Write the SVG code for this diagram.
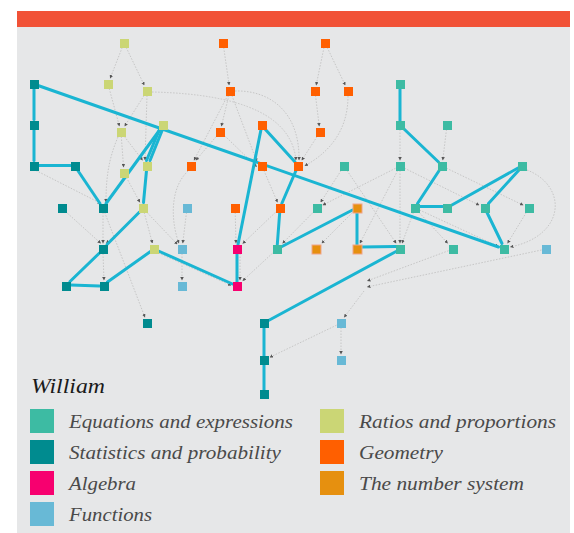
<svg xmlns="http://www.w3.org/2000/svg" width="574" height="533" viewBox="0 0 574 533">
<defs>
<style>
.d{fill:none;stroke:#c6c6c6;stroke-width:1;stroke-dasharray:1.5 1.5;marker-end:url(#ah)}
.t{fill:none;stroke:#1ab5d2;stroke-width:3;stroke-linecap:round}
.eq{fill:#3dbba3}.st{fill:#008b8f}.al{fill:#f7006f}.fn{fill:#68b9d6}.ra{fill:#cbd675}.ge{fill:#ff5f00}.nu{fill:#e6900f}
.nh{stroke:#f0a58a;stroke-width:1}
.lg{font-family:"Liberation Serif",Georgia,serif;font-style:italic;font-size:19px;fill:#4a4a4a}
</style>
<marker id="ah" viewBox="0 0 4 4" refX="4" refY="2" markerWidth="3.5" markerHeight="3.5" markerUnits="userSpaceOnUse" orient="auto"><path d="M0,0L4,2L0,4z" fill="#555"/></marker>
</defs>
<rect x="17" y="11" width="553" height="522" fill="#e6e7e8"/>
<rect x="17" y="11" width="553" height="16" fill="#f15237"/>
<g id="connectors">
<line class="d" x1="122.2" y1="47.5" x2="110.1" y2="78.5"/>
<line class="d" x1="126.2" y1="47.5" x2="144.4" y2="85.5"/>
<line class="d" x1="109.2" y1="88.5" x2="119.5" y2="126.5"/>
<line class="d" x1="144.1" y1="95.5" x2="124.5" y2="126.5"/>
<line class="d" x1="147" y1="95.5" x2="145" y2="160.5"/>
<path class="d" d="M152,92 Q290,95 296,160.5"/>
<line class="d" x1="121.3" y1="136.5" x2="123.6" y2="167.5"/>
<line class="d" x1="124.4" y1="136.5" x2="142.8" y2="160.5"/>
<path class="d" d="M118,137 C108,160 106,180 106,202.5"/>
<line class="d" x1="36" y1="170.5" x2="101" y2="203.5"/>
<line class="d" x1="65.2" y1="211.2" x2="101" y2="243.5"/>
<line class="d" x1="103" y1="212.5" x2="103" y2="243.5"/>
<line class="d" x1="104.7" y1="212.5" x2="145" y2="317.5"/>
<line class="d" x1="139.5" y1="212.5" x2="106" y2="243.5"/>
<line class="d" x1="144.2" y1="212.5" x2="152.5" y2="243.5"/>
<line class="d" x1="147" y1="212.5" x2="177.5" y2="244.5"/>
<line class="d" x1="103" y1="253.5" x2="104" y2="280.5"/>
<line class="d" x1="186.5" y1="212.5" x2="182.7" y2="243.5"/>
<line class="d" x1="182" y1="253.5" x2="182" y2="280.5"/>
<line class="d" x1="158.5" y1="253" x2="231.5" y2="285.5"/>
<path class="d" d="M188,171 C168,190 172,225 179,243.5"/>
<line class="d" x1="126.4" y1="177.5" x2="140" y2="202.5"/>
<line class="d" x1="223.7" y1="47.5" x2="229.2" y2="85.5"/>
<line class="d" x1="324" y1="47.5" x2="316.1" y2="85.5"/>
<line class="d" x1="327.2" y1="47.5" x2="345.4" y2="85.5"/>
<line class="d" x1="228.9" y1="95.5" x2="221.3" y2="126.5"/>
<line class="d" x1="227.7" y1="95.5" x2="193.9" y2="160.5"/>
<line class="d" x1="231.9" y1="95.5" x2="257" y2="162"/>
<path class="d" d="M235,91 C270,90 300,112 299,160.5"/>
<line class="d" x1="315.5" y1="95.5" x2="319.3" y2="126.5"/>
<path class="d" d="M348,96 C348,130 330,152 304.5,166"/>
<line class="d" x1="317.1" y1="136.5" x2="301.6" y2="160.5"/>
<line class="d" x1="216.2" y1="136.5" x2="195.7" y2="160.5"/>
<line class="d" x1="224.5" y1="135.6" x2="257" y2="167"/>
<line class="d" x1="235.2" y1="212.5" x2="236" y2="243.5"/>
<line class="d" x1="263.9" y1="170.5" x2="277.6" y2="202.5"/>
<line class="d" x1="275.5" y1="212.3" x2="242.5" y2="243.8"/>
<line class="d" x1="313" y1="212.5" x2="282.4" y2="243.5"/>
<line class="d" x1="341.1" y1="170.5" x2="320.5" y2="202.5"/>
<line class="d" x1="347" y1="170.5" x2="396.3" y2="243.5"/>
<line class="d" x1="395.5" y1="168.3" x2="322.5" y2="205.2"/>
<line class="d" x1="400" y1="170.5" x2="400" y2="243.5"/>
<line class="d" x1="397.7" y1="170.5" x2="359.8" y2="243.5"/>
<line class="d" x1="404.5" y1="168.2" x2="479.5" y2="205.3"/>
<line class="d" x1="446.5" y1="168.2" x2="523.5" y2="205.3"/>
<line class="d" x1="446.5" y1="129.5" x2="442.7" y2="160.5"/>
<line class="d" x1="400" y1="129.5" x2="400" y2="160.5"/>
<path class="d" d="M527,170 C568,186 566,236 510,247"/>
<line class="d" x1="526.3" y1="212.5" x2="507.4" y2="243.5"/>
<line class="d" x1="419.2" y1="212.5" x2="447.9" y2="243.5"/>
<line class="d" x1="419.5" y1="210" x2="498.5" y2="246.5"/>
<line class="d" x1="413.4" y1="212.5" x2="402" y2="243.5"/>
<line class="d" x1="352.5" y1="212.5" x2="321.5" y2="243.5"/>
<line class="d" x1="448.5" y1="250.7" x2="367" y2="281"/>
<line class="d" x1="541.5" y1="250" x2="367" y2="287"/>
<line class="d" x1="364" y1="291" x2="344" y2="317.5"/>
<line class="d" x1="336.5" y1="325.2" x2="269.5" y2="357.4"/>
<line class="d" x1="341" y1="327.5" x2="341" y2="354.5"/>
<line class="d" x1="272.5" y1="253.2" x2="242.5" y2="280.9"/>
<line class="d" x1="240" y1="253.5" x2="240" y2="280.5"/>
<line class="t" x1="34" y1="88.5" x2="34" y2="119.5"/>
<line class="t" x1="38" y1="85.5" x2="498.5" y2="247"/>
<line class="t" x1="34" y1="129.5" x2="34" y2="160.5"/>
<line class="t" x1="38.5" y1="165.5" x2="70.5" y2="165.5"/>
<line class="t" x1="77.5" y1="170" x2="100" y2="203.5"/>
<line class="t" x1="160" y1="129.5" x2="106" y2="203.5"/>
<line class="t" x1="159.5" y1="129.5" x2="146.5" y2="160.5"/>
<line class="t" x1="162.5" y1="129.5" x2="150" y2="160.5"/>
<line class="t" x1="146.5" y1="170.5" x2="143.5" y2="202.5"/>
<line class="t" x1="139.5" y1="212" x2="107" y2="244.5"/>
<line class="t" x1="99.5" y1="253" x2="70" y2="281.5"/>
<line class="t" x1="70.5" y1="285" x2="99.5" y2="286"/>
<line class="t" x1="107.5" y1="282" x2="150.5" y2="251.5"/>
<line class="t" x1="158.5" y1="251" x2="232.5" y2="284"/>
<line class="t" x1="237" y1="281.5" x2="237" y2="253.5"/>
<line class="t" x1="238" y1="244.5" x2="261" y2="129.5"/>
<line class="t" x1="265" y1="129" x2="295" y2="162"/>
<line class="t" x1="296" y1="170.5" x2="281.8" y2="203.5"/>
<line class="t" x1="279.7" y1="212.5" x2="277.3" y2="244.5"/>
<line class="t" x1="281" y1="247" x2="352.5" y2="210"/>
<line class="t" x1="357" y1="212.5" x2="357" y2="244.5"/>
<line class="t" x1="361.5" y1="247" x2="395.5" y2="246.5"/>
<line class="t" x1="396" y1="251.5" x2="268.5" y2="320.5"/>
<line class="t" x1="264" y1="327.5" x2="264" y2="355.5"/>
<line class="t" x1="264" y1="364.5" x2="264" y2="389.5"/>
<line class="t" x1="400" y1="88.5" x2="400" y2="120.5"/>
<line class="t" x1="404" y1="129" x2="438.5" y2="162"/>
<line class="t" x1="439.5" y1="170" x2="417.5" y2="203.5"/>
<line class="t" x1="419.5" y1="206.5" x2="442.5" y2="206.5"/>
<line class="t" x1="451" y1="205.5" x2="518" y2="168"/>
<line class="t" x1="519" y1="170" x2="488.5" y2="203.5"/>
<line class="t" x1="487" y1="212.5" x2="502" y2="243.5"/>
</g>
<g id="n-r1"><rect class="ra" x="120" y="39" width="9" height="9"/></g>
<g id="n-r2"><rect class="ra" x="104" y="80" width="9" height="9"/></g>
<g id="n-r3"><rect class="ra" x="143" y="87" width="9" height="9"/></g>
<g id="n-r4"><rect class="ra" x="117" y="128" width="9" height="9"/></g>
<g id="n-r5"><rect class="ra" x="159" y="121" width="9" height="9"/></g>
<g id="n-r6"><rect class="ra" x="120" y="169" width="9" height="9"/></g>
<g id="n-r7"><rect class="ra" x="143" y="162" width="9" height="9"/></g>
<g id="n-r8"><rect class="ra" x="139" y="204" width="9" height="9"/></g>
<g id="n-r9"><rect class="ra" x="150" y="245" width="9" height="9"/></g>
<g id="n-s1"><rect class="st" x="30" y="80" width="9" height="9"/></g>
<g id="n-s2"><rect class="st" x="30" y="121" width="9" height="9"/></g>
<g id="n-s3"><rect class="st" x="30" y="162" width="9" height="9"/></g>
<g id="n-s4"><rect class="st" x="71" y="162" width="9" height="9"/></g>
<g id="n-s5"><rect class="st" x="58" y="204" width="9" height="9"/></g>
<g id="n-s6"><rect class="st" x="99" y="204" width="9" height="9"/></g>
<g id="n-s7"><rect class="st" x="99" y="245" width="9" height="9"/></g>
<g id="n-s8"><rect class="st" x="62" y="282" width="9" height="9"/></g>
<g id="n-s9"><rect class="st" x="100" y="282" width="9" height="9"/></g>
<g id="n-s10"><rect class="st" x="143" y="319" width="9" height="9"/></g>
<g id="n-s11"><rect class="st" x="260" y="319" width="9" height="9"/></g>
<g id="n-s12"><rect class="st" x="260" y="356" width="9" height="9"/></g>
<g id="n-s13"><rect class="st" x="260" y="390" width="9" height="9"/></g>
<g id="n-g1"><rect class="ge" x="219" y="39" width="9" height="9"/></g>
<g id="n-g2"><rect class="ge" x="321" y="39" width="9" height="9"/></g>
<g id="n-g3"><rect class="ge" x="226" y="87" width="9" height="9"/></g>
<g id="n-g4"><rect class="ge" x="311" y="87" width="9" height="9"/></g>
<g id="n-g5"><rect class="ge" x="344" y="87" width="9" height="9"/></g>
<g id="n-g6"><rect class="ge" x="216" y="128" width="9" height="9"/></g>
<g id="n-g7"><rect class="ge" x="258" y="121" width="9" height="9"/></g>
<g id="n-g8"><rect class="ge" x="316" y="128" width="9" height="9"/></g>
<g id="n-g9"><rect class="ge" x="187" y="162" width="9" height="9"/></g>
<g id="n-g10"><rect class="ge" x="258" y="162" width="9" height="9"/></g>
<g id="n-g11"><rect class="ge" x="294" y="162" width="9" height="9"/></g>
<g id="n-g12"><rect class="ge" x="231" y="204" width="9" height="9"/></g>
<g id="n-g13"><rect class="ge" x="276" y="204" width="9" height="9"/></g>
<g id="n-f1"><rect class="fn" x="183" y="204" width="9" height="9"/></g>
<g id="n-f2"><rect class="fn" x="178" y="245" width="9" height="9"/></g>
<g id="n-f3"><rect class="fn" x="178" y="282" width="9" height="9"/></g>
<g id="n-f4"><rect class="fn" x="542" y="245" width="9" height="9"/></g>
<g id="n-f5"><rect class="fn" x="337" y="319" width="9" height="9"/></g>
<g id="n-f6"><rect class="fn" x="337" y="356" width="9" height="9"/></g>
<g id="n-a1"><rect class="al" x="233" y="245" width="9" height="9"/></g>
<g id="n-a2"><rect class="al" x="233" y="282" width="9" height="9"/></g>
<g id="n-n1"><rect class="nu nh" x="353" y="204" width="9" height="9"/></g>
<g id="n-n2"><rect class="nu nh" x="312" y="245" width="9" height="9"/></g>
<g id="n-n3"><rect class="nu nh" x="353" y="245" width="9" height="9"/></g>
<g id="n-e1"><rect class="eq" x="396" y="80" width="9" height="9"/></g>
<g id="n-e2"><rect class="eq" x="396" y="121" width="9" height="9"/></g>
<g id="n-e3"><rect class="eq" x="443" y="121" width="9" height="9"/></g>
<g id="n-e4"><rect class="eq" x="340" y="162" width="9" height="9"/></g>
<g id="n-e5"><rect class="eq" x="396" y="162" width="9" height="9"/></g>
<g id="n-e6"><rect class="eq" x="438" y="162" width="9" height="9"/></g>
<g id="n-e7"><rect class="eq" x="518" y="162" width="9" height="9"/></g>
<g id="n-e8"><rect class="eq" x="313" y="204" width="9" height="9"/></g>
<g id="n-e9"><rect class="eq" x="411" y="204" width="9" height="9"/></g>
<g id="n-e10"><rect class="eq" x="443" y="204" width="9" height="9"/></g>
<g id="n-e11"><rect class="eq" x="481" y="204" width="9" height="9"/></g>
<g id="n-e12"><rect class="eq" x="525" y="204" width="9" height="9"/></g>
<g id="n-e13"><rect class="eq" x="273" y="245" width="9" height="9"/></g>
<g id="n-e14"><rect class="eq" x="396" y="245" width="9" height="9"/></g>
<g id="n-e15"><rect class="eq" x="449" y="245" width="9" height="9"/></g>
<g id="n-e16"><rect class="eq" x="500" y="245" width="9" height="9"/></g>
<g id="legend">
<text x="31" y="393" font-family="'Liberation Serif',Georgia,serif" font-style="italic" font-size="21" fill="#1a1a1a" textLength="74" lengthAdjust="spacingAndGlyphs">William</text>
<rect class="eq" x="30" y="409" width="24" height="24"/>
<text class="lg" x="69" y="428" textLength="224" lengthAdjust="spacingAndGlyphs">Equations and expressions</text>
<rect class="st" x="30" y="440" width="24" height="24"/>
<text class="lg" x="69" y="459" textLength="212" lengthAdjust="spacingAndGlyphs">Statistics and probability</text>
<rect class="al" x="30" y="471" width="24" height="24"/>
<text class="lg" x="69" y="490" textLength="67" lengthAdjust="spacingAndGlyphs">Algebra</text>
<rect class="fn" x="30" y="502" width="24" height="24"/>
<text class="lg" x="69" y="521" textLength="83" lengthAdjust="spacingAndGlyphs">Functions</text>
<rect class="ra" x="320" y="409" width="24" height="24"/>
<text class="lg" x="359" y="428" textLength="197" lengthAdjust="spacingAndGlyphs">Ratios and proportions</text>
<rect class="ge" x="320" y="440" width="24" height="24"/>
<text class="lg" x="359" y="459" textLength="84" lengthAdjust="spacingAndGlyphs">Geometry</text>
<rect class="nu" x="320" y="471" width="24" height="24"/>
<text class="lg" x="359" y="490" textLength="165" lengthAdjust="spacingAndGlyphs">The number system</text>
</g>
</svg>
